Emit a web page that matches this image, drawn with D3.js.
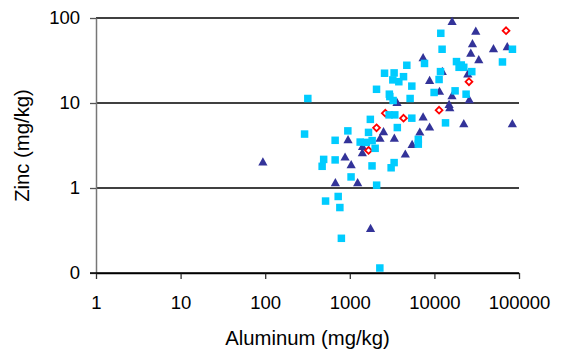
<!DOCTYPE html>
<html>
<head>
<meta charset="utf-8">
<script src="https://cdn.jsdelivr.net/npm/d3@7"></script>
<style>
  html, body { margin: 0; padding: 0; background: #fff; }
  svg { display: block; font-family: "Liberation Sans", Arial, sans-serif; }
</style>
</head>
<body>
<svg id="chart" width="565" height="355"></svg>
<script>
// ---- data (Aluminum mg/kg, Zinc mg/kg) ----
const squareAl = [11900, 12330, 83660, 63750, 7640, 18240, 20790, 22250, 19580, 4720,
  27660, 11800, 11360, 2574, 3341, 4315, 3226, 3797, 5408, 2070,
  9920, 17560, 23690, 2933, 319, 3252, 2972, 5164, 1749, 2916,
  3405, 5408, 13530, 3645, 948, 1665, 292, 671, 1326, 1569,
  1837, 6453, 6453, 1993, 491, 671, 471, 1831, 3341, 3080,
  1035, 2076, 729, 517, 763, 795, 2265];
const squareZn = [66.1, 42.9, 42.9, 30.4, 29.2, 30.7, 28.0, 26.3, 26.3, 27.8,
  23.4, 23.4, 18.9, 22.4, 22.6, 20.4, 18.7, 17.8, 15.8, 14.5,
  13.3, 13.9, 12.7, 12.7, 11.3, 10.7, 11.9, 11.3, 6.42, 7.25,
  7.25, 6.63, 5.84, 5.14, 4.70, 4.51, 4.31, 3.64, 3.47, 3.44,
  3.61, 3.73, 3.28, 2.93, 2.17, 2.14, 1.80, 1.82, 1.99, 1.73,
  1.35, 1.08, 0.795, 0.702, 0.589, 0.256, 0.1145];

const triAl = [16190, 30840, 28180, 49920, 72640, 26920, 7353, 33460, 24810, 12400,
  8777, 11490, 16140, 25840, 3615, 14920, 15200, 7353, 22250, 83430,
  8777, 2504, 6721, 2277, 3360, 953, 1414, 1407, 5453, 4532,
  879, 1038, 675, 1238, 1759, 93.9];
const triZn = [92.2, 70.7, 50.4, 44.1, 46.5, 39.1, 34.5, 32.7, 22.2, 23.8,
  18.7, 13.9, 12.3, 11.1, 10.3, 9.76, 8.93, 6.96, 5.79, 5.79,
  5.28, 4.66, 4.61, 3.89, 3.91, 3.75, 3.13, 2.63, 3.29, 2.54,
  2.34, 1.90, 1.17, 1.17, 0.338, 2.05];

const diaAl = [70310, 25630, 11360, 2630, 4315, 2070, 1665];
const diaZn = [70.9, 17.8, 8.23, 7.59, 6.63, 5.10, 2.77];

const xTickValues = [1, 10, 100, 1000, 10000, 100000];
const xTickLabels = ["1", "10", "100", "1000", "10000", "100000"];
const yTickValues = [0.1, 1, 10, 100];
const yTickLabels = ["0", "1", "10", "100"];
const xTitle = "Aluminum (mg/kg)";
const yTitle = "Zinc (mg/kg)";

// ---- layout ----
const L = 96, R = 519, T = 18, B = 273;
const svg = d3.select("#chart");
const x = d3.scaleLog().domain([1, 100000]).range([L, R]);
const y = d3.scaleLog().domain([0.1, 100]).range([B, T]);
const fs = 18.5;
const tfs = 20.3;

// gridlines
svg.append("g").selectAll("line")
  .data(yTickValues.filter(v => v > 0.1))
  .join("line")
  .attr("x1", L).attr("x2", R)
  .attr("y1", d => y(d)).attr("y2", d => y(d))
  .attr("stroke", "#000").attr("stroke-width", 1.3);

// x axis
const xAxis = svg.append("g")
  .attr("transform", `translate(0,${B})`)
  .call(d3.axisBottom(x).tickValues(xTickValues)
    .tickFormat((d, i) => xTickLabels[i]).tickSize(6).tickSizeOuter(0).tickPadding(17));
xAxis.select(".domain").attr("stroke", "#000").attr("stroke-width", 1.3);
xAxis.selectAll(".tick line").attr("stroke", "#333").attr("stroke-width", 1.3);
xAxis.selectAll("text").attr("font-size", fs).attr("fill", "#000")
  .attr("font-family", "Liberation Sans, Arial, sans-serif");

// y axis
const yAxis = svg.append("g")
  .attr("transform", `translate(${L},0)`)
  .call(d3.axisLeft(y).tickValues(yTickValues)
    .tickFormat((d, i) => yTickLabels[i]).tickSize(6).tickSizeOuter(0).tickPadding(10));
yAxis.select(".domain").attr("stroke", "#777").attr("stroke-width", 1.5);
yAxis.selectAll(".tick line").attr("stroke", "#555").attr("stroke-width", 1.3);
yAxis.selectAll("text").attr("font-size", fs).attr("fill", "#000")
  .attr("font-family", "Liberation Sans, Arial, sans-serif");

// redraw bottom axis line on top of y axis
svg.append("line").attr("x1", L - 6).attr("x2", R)
  .attr("y1", y(0.1)).attr("y2", y(0.1))
  .attr("stroke", "#000").attr("stroke-width", 1.3);

// titles
svg.append("text").attr("x", (L + R) / 2).attr("y", 345)
  .attr("text-anchor", "middle").attr("font-size", tfs).attr("fill", "#000")
  .text(xTitle);
svg.append("text")
  .attr("transform", `translate(29,${(T + B) / 2}) rotate(-90)`)
  .attr("text-anchor", "middle").attr("font-size", tfs).attr("fill", "#000")
  .text(yTitle);

// ---- markers ----
const tri = d3.range(triAl.length).map(i => [triAl[i], triZn[i]]);
const sq = d3.range(squareAl.length).map(i => [squareAl[i], squareZn[i]]);
const dia = d3.range(diaAl.length).map(i => [diaAl[i], diaZn[i]]);

svg.append("g").selectAll("path").data(tri).join("path")
  .attr("d", "M0,-4.2L4.6,4L-4.6,4Z")
  .attr("transform", d => `translate(${x(d[0])},${y(d[1])})`)
  .attr("fill", "#333399");

svg.append("g").selectAll("path").data(dia).join("path")
  .attr("d", "M0,-3.4L3.4,0L0,3.4L-3.4,0Z")
  .attr("transform", d => `translate(${x(d[0])},${y(d[1])})`)
  .attr("fill", "#fff").attr("stroke", "#ff0000").attr("stroke-width", 1.8);

svg.append("g").selectAll("rect").data(sq).join("rect")
  .attr("x", d => x(d[0]) - 3.75).attr("y", d => y(d[1]) - 3.75)
  .attr("width", 7.5).attr("height", 7.5)
  .attr("fill", "#00ccff");
</script>
</body>
</html>
